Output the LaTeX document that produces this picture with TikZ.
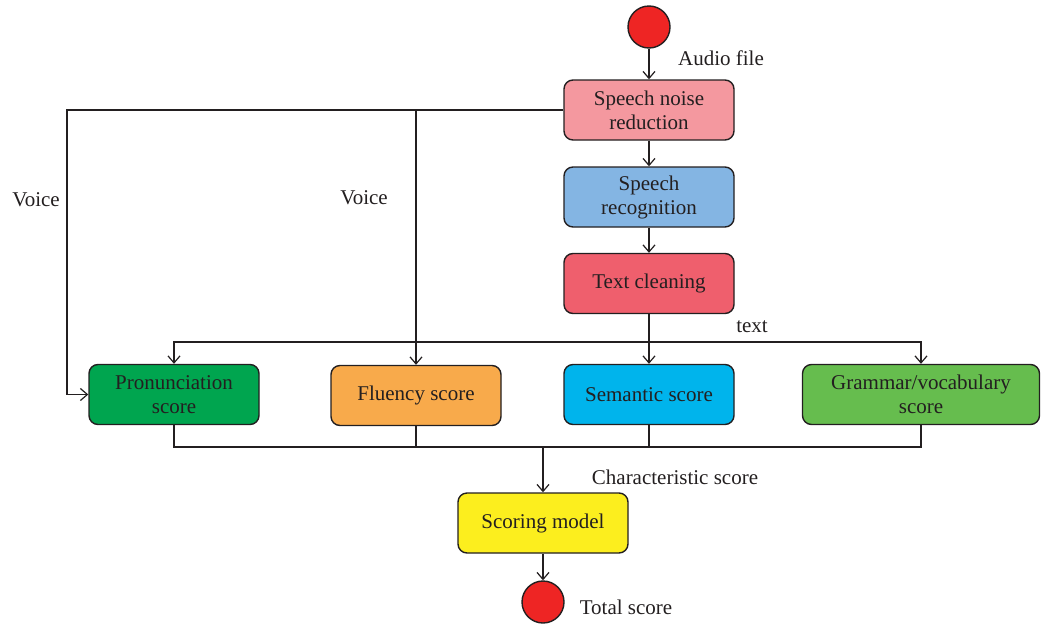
\documentclass[tikz,border=0pt]{standalone}
\usepackage{fontspec}
\setmainfont{Liberation Serif}
\usetikzlibrary{arrows.meta}
\definecolor{ink}{HTML}{231F20}
\definecolor{cNoise}{HTML}{F4989F}
\definecolor{cRecog}{HTML}{84B5E3}
\definecolor{cClean}{HTML}{EF5F6D}
\definecolor{cPron}{HTML}{00A54F}
\definecolor{cFlu}{HTML}{F8AA4B}
\definecolor{cSem}{HTML}{00B4EC}
\definecolor{cGram}{HTML}{66BD4E}
\definecolor{cScore}{HTML}{FCEE1E}
\definecolor{cDot}{HTML}{EE2524}
\tikzset{
  box/.style={draw=ink, line width=1.4pt, rounded corners=9pt, minimum width=170pt,
    minimum height=60pt, align=center, text=ink, inner sep=2pt,
    font=\fontsize{21}{24}\selectfont},
  dot/.style={circle, draw=ink, line width=1.4pt, fill=cDot, minimum size=42pt, inner sep=0pt},
  lab/.style={text=ink, font=\fontsize{21}{24}\selectfont, inner sep=0pt},
  wire/.style={draw=ink, line width=1.2pt},
  arr/.style={wire, -{Straight Barb[length=7pt,width=12pt,line width=1.2pt]}}
}
\begin{document}
\begin{tikzpicture}[x=1pt,y=-1pt]
\useasboundingbox (0,0) rectangle (1041,627);
\node[dot] (start) at (649,27) {};
\node[box, fill=cNoise] (noise) at (649,110) {Speech noise\\reduction};
\node[box, fill=cRecog] (recog) at (649,197) {Speech\\recognition};
\node[box, fill=cClean] (clean) at (649,283.5) {Text cleaning};
\node[box, fill=cPron] (pron) at (174,394.5) {Pronunciation\\score};
\node[box, fill=cFlu] (flu) at (416,395.5) {Fluency score};
\node[box, fill=cSem] (sem) at (649,394.5) {Semantic score};
\node[box, fill=cGram, minimum width=237pt] (gram) at (921,394.5) {Grammar/vocabulary\\score};
\node[box, fill=cScore] (score) at (543,523) {Scoring model};
\node[dot] (end) at (543,602) {};

\node[lab] (laudio) at (721,58) {Audio file};
\node[lab] (lv1) at (36,200) {Voice};
\node[lab] (lv2) at (364,198) {Voice};
\node[lab] (ltext) at (752,327) {text};
\node[lab] (lchar) at (675,477) {Characteristic score};
\node[lab] (ltotal) at (626,607) {Total score};

\coordinate (vl) at (67,110);
\coordinate (vb) at (flu.north |- noise.west);
\coordinate (tb) at (649,342);
\coordinate (bb) at (score.north |- 0,447);

\draw[arr] (start) -- (noise);
\draw[arr] (noise) -- (recog);
\draw[arr] (recog) -- (clean);
\draw[arr] (noise.west) -- (vl) |- (pron.west);
\draw[arr] (vb) -- (flu.north);
\draw[arr] (clean.south) -- (sem.north);
\draw[arr] (tb) -| (pron.north);
\draw[arr] (tb) -| (gram.north);
\draw[wire] (pron.south) -- (pron.south |- bb) -- (gram.south |- bb) -- (gram.south);
\draw[wire] (flu.south) -- (flu.south |- bb);
\draw[wire] (sem.south) -- (sem.south |- bb);
\draw[arr] (bb) -- (score.north);
\draw[arr] (score) -- (end);
\end{tikzpicture}
\end{document}
